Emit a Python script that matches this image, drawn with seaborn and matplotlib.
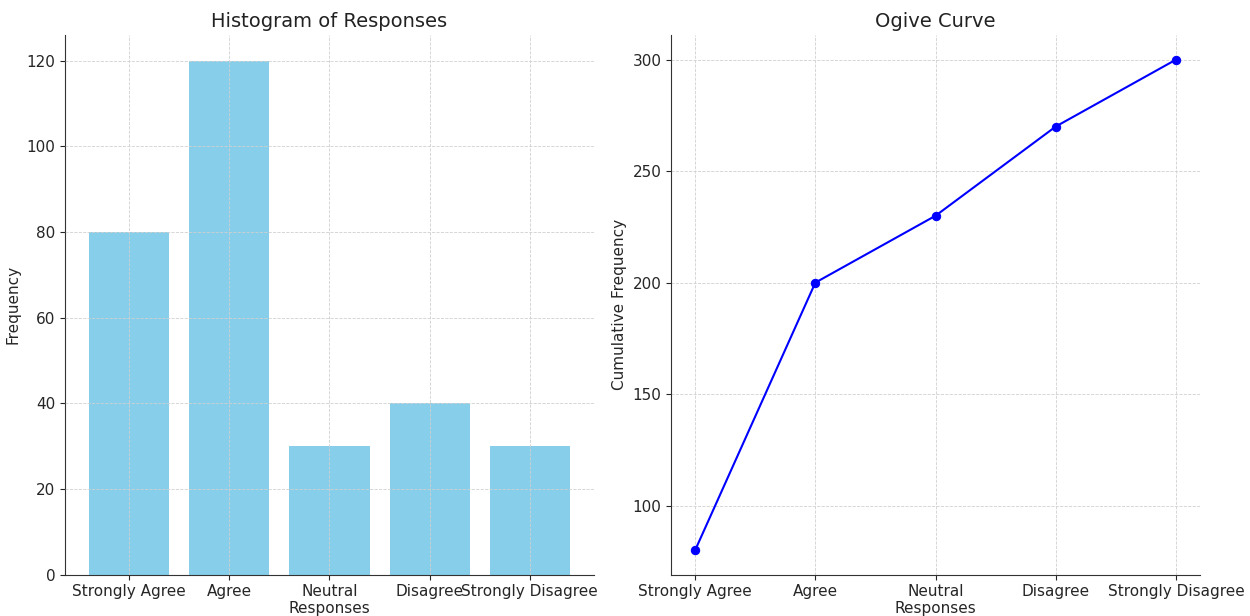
import seaborn as sns
import matplotlib.pyplot as plt
import numpy as np

responses = ['Strongly Agree', 'Agree', 'Neutral', 'Disagree', 'Strongly Disagree']
frequency = [80, 120, 30, 40, 30]
cumulative = list(np.cumsum(frequency))

sns.set_style("ticks", {"axes.grid": True, "grid.linestyle": "--", "grid.color": "#d0d0d0"})
plt.rcParams['font.family'] = ['DejaVu Sans']
plt.rcParams['text.color'] = '#222222'

fig, axes = plt.subplots(1, 2, figsize=(12.5, 6.16), dpi=100)

ax = axes[0]
sns.barplot(x=responses, y=frequency, color='skyblue', width=0.8, saturation=1,
            linewidth=0, ax=ax)
ax.set_title('Histogram of Responses', fontsize=14, pad=6)
ax.set_xlabel('Responses', fontsize=11, labelpad=1)
ax.set_ylabel('Frequency', fontsize=11)
ax.set_xlim(-0.64, 4.64)
ax.grid(True, linestyle='--', linewidth=0.6, color='#d0d0d0')
ax.set_axisbelow(False)
ax.tick_params(labelsize=11)

ax = axes[1]
sns.lineplot(x=range(len(responses)), y=cumulative, marker='o', color='blue', markersize=6,
             markeredgecolor='blue', ax=ax)
ax.set_xticks(range(len(responses)))
ax.set_xticklabels(responses)
ax.set_xlim(-0.2, 4.2)
ax.set_title('Ogive Curve', fontsize=14, pad=6)
ax.set_xlabel('Responses', fontsize=11, labelpad=1)
ax.set_ylabel('Cumulative Frequency', fontsize=11)
ax.grid(True, linestyle='--', linewidth=0.6, color='#d0d0d0')
ax.tick_params(labelsize=11)

for a in axes:
    sns.despine(ax=a)
    for s in ['left', 'bottom']:
        a.spines[s].set_color('#333333')

plt.subplots_adjust(left=0.052, right=0.96, top=0.943, bottom=0.067, wspace=0.146)
plt.savefig('out.png')
